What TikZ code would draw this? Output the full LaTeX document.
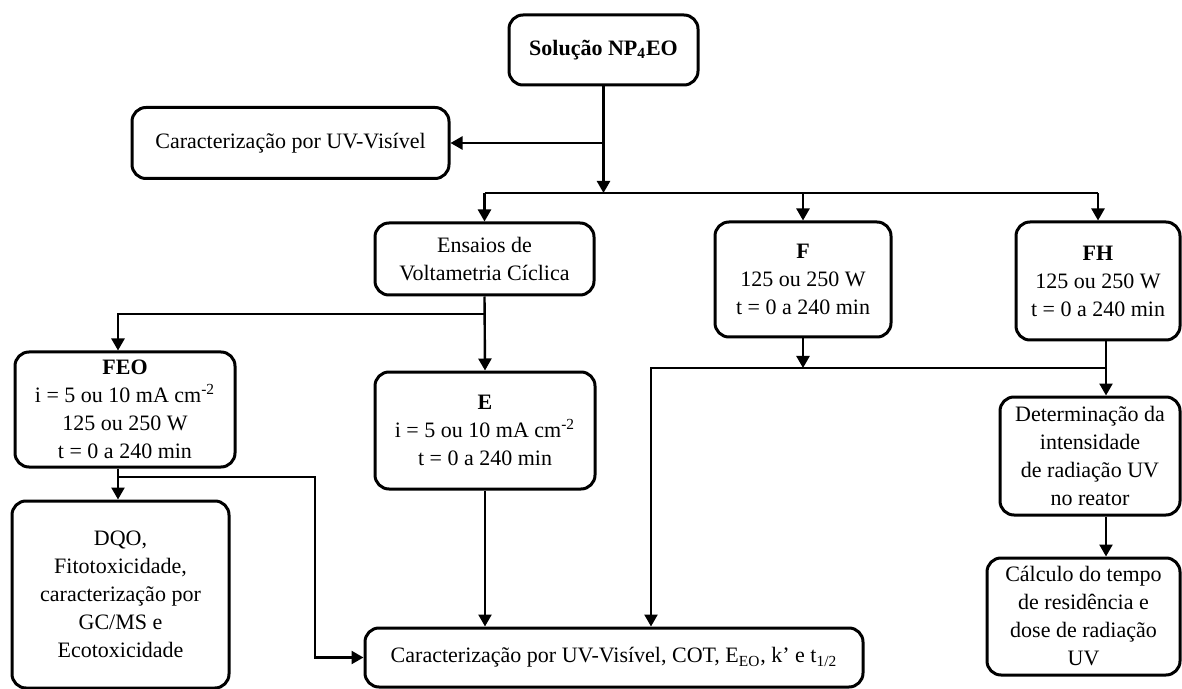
\documentclass[tikz,border=0pt]{standalone}
\usepackage{fontspec}
\setmainfont{Liberation Serif}
\usetikzlibrary{arrows.meta}

\begin{document}
\begin{tikzpicture}[x=0.5pt, y=-0.5pt,
  font=\fontsize{11}{14}\selectfont,
  box/.style={draw, line width=1.5pt, rounded corners=7pt, fill=white, align=center, inner sep=2pt},
  arr/.style={-{Triangle[length=6pt,width=6.5pt]}, line width=1.2pt},
  line/.style={line width=1.2pt}]
\useasboundingbox (0,0) rectangle (1182,689);

% top
\node[box, minimum width=94.5pt, minimum height=35pt] (sol) at (603.5,50) {\textbf{Solução NP\textsubscript{4}EO}};
\node[box, minimum width=158.5pt, minimum height=35.5pt] (uvtop) at (290.5,143) {Caracterização por UV-Visível};

% second row
\node[box, minimum width=109.5pt, minimum height=36pt] (ens) at (484.5,259) {Ensaios de\\Voltametria Cíclica};
\node[box, minimum width=88pt, minimum height=57.5pt] (f) at (803,279.5) {\textbf{F}\\125 ou 250 W\\t = 0 a 240 min};
\node[box, minimum width=82pt, minimum height=59pt] (fh) at (1098,281) {\textbf{FH}\\125 ou 250 W\\t = 0 a 240 min};

% third row
\node[box, minimum width=110pt, minimum height=57.5pt] (feo) at (125,409.5) {\textbf{FEO}\\i = 5 ou 10 mA cm\textsuperscript{-2}\\125 ou 250 W\\t = 0 a 240 min};
\node[box, minimum width=110pt, minimum height=58.5pt] (e) at (485,430.5) {\textbf{E}\\i = 5 ou 10 mA cm\textsuperscript{-2}\\t = 0 a 240 min};
\node[box, minimum width=90pt, minimum height=59pt] (det) at (1090,456) {Determinação da\\intensidade\\de radiação UV\\no reator};

% bottom
\node[box, minimum width=108.5pt, minimum height=93.5pt] (dqo) at (120.5,594.5) {DQO,\\Fitotoxicidade,\\caracterização por\\GC/MS e\\Ecotoxicidade};
\node[box, minimum width=249pt, minimum height=29.5pt] (bot) at (614,657.5) {Caracterização por UV-Visível, COT, E\textsubscript{EO}, k’ e t\textsubscript{1/2}};
\node[box, minimum width=96.5pt, minimum height=58.5pt] (calc) at (1083.5,616.5) {Cálculo do tempo\\de residência e\\dose de radiação\\UV};

% buses
\coordinate (bus1) at (0,193);
\coordinate (bus2) at (0,314);
\coordinate (bus3) at (0,368);
\coordinate (k1) at (315,477);
\coordinate (k2) at (651,368);
\coordinate (r) at (1106,0);

% from the solution
\draw[arr] (sol.south) -- (sol.south |- bus1);
\draw[arr] (sol.south |- uvtop.east) -- (uvtop.east);
\draw[line] (ens.north |- bus1) -- (fh.north |- bus1);
\foreach \n in {ens,f,fh}
  \draw[arr] (\n.north |- bus1) -- (\n.north);

% voltametria
\draw[arr] (ens.south) -- (e.north);
\draw[arr] (ens.south |- bus2) -| ([xshift=-3.5pt]feo.north);

% FEO
\draw[arr] ([xshift=-3.5pt]feo.south) -- ([xshift=-3.5pt]feo.south |- dqo.north);
\draw[arr] ([xshift=-3.5pt]feo.south |- k1) -- (k1) |- (bot.west);

% E
\draw[arr] (e.south) -- (e.south |- bot.north);

% F and FH
\draw[arr] (f.south) -- (f.south |- bus3);
\draw[arr] (r |- bus3) -- (k2) -- (k2 |- bot.north);
\draw[arr] (r |- fh.south) -- (r |- det.north);
\draw[arr] (r |- det.south) -- (r |- calc.north);

\end{tikzpicture}
\end{document}
